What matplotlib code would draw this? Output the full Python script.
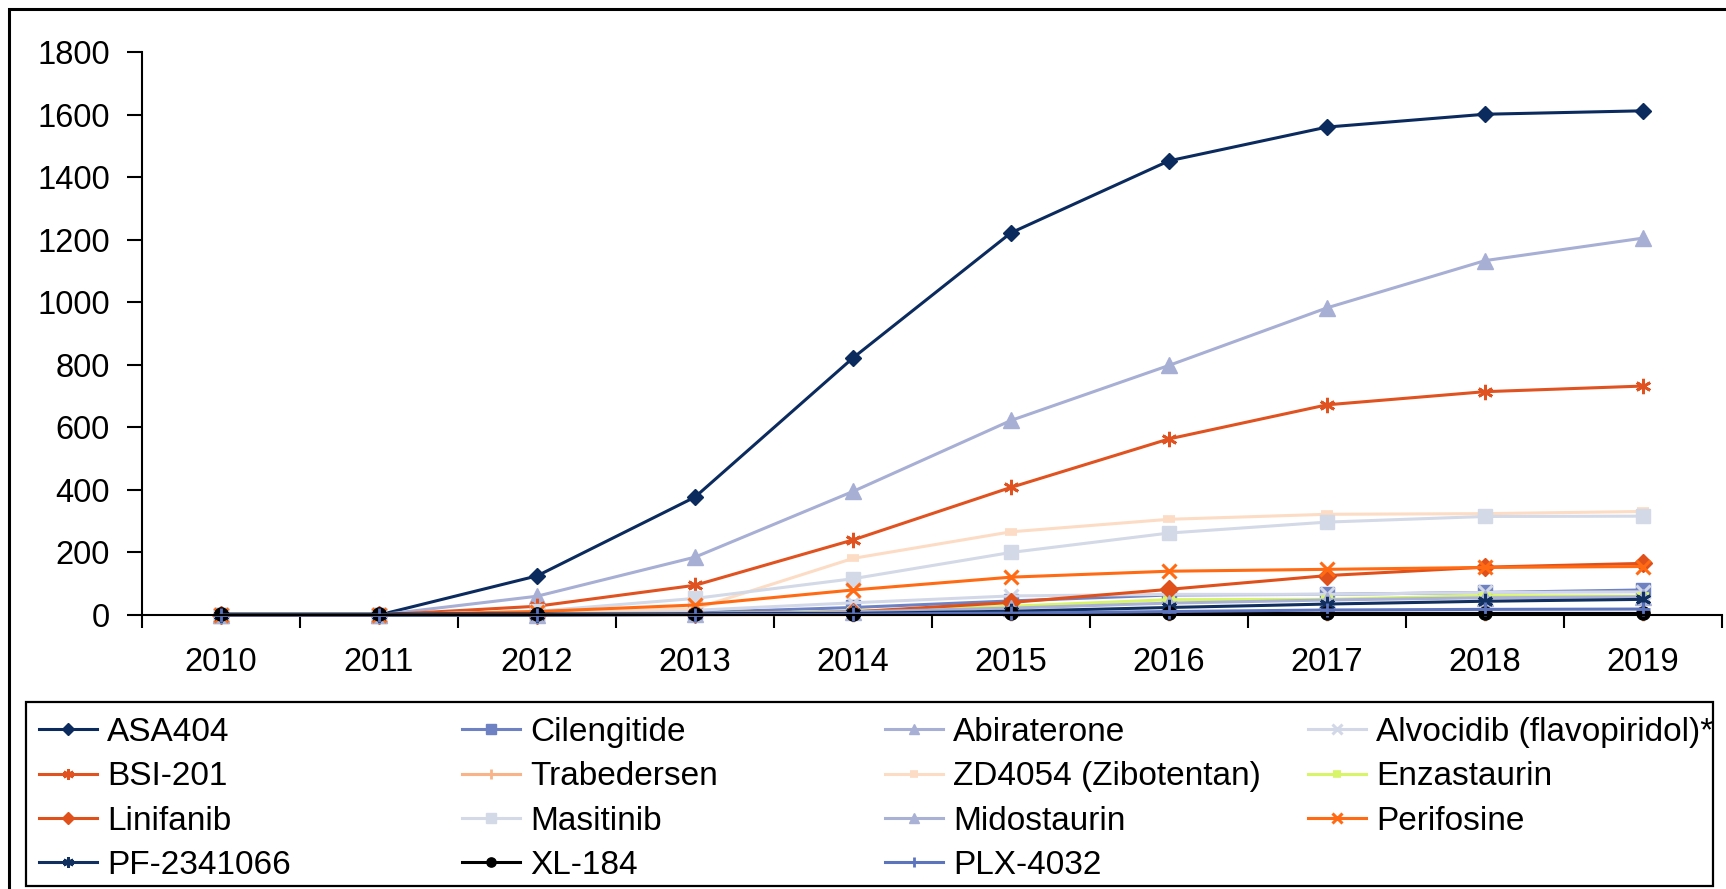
import numpy as np
import matplotlib
matplotlib.use("Agg")
import matplotlib.pyplot as plt
from matplotlib.patches import Rectangle

plt.rcParams['font.family'] = ['Liberation Sans', 'DejaVu Sans']

years = ['2010', '2011', '2012', '2013', '2014', '2015', '2016', '2017', '2018', '2019']

asa404      = [0, 0, 125, 377, 822, 1222, 1452, 1560, 1601, 1612]
cilengitide = [0, 0, 2, 8, 24, 45, 64, 66, 72, 80]
abiraterone = [0, 0, 60, 185, 395, 622, 798, 982, 1133, 1205]
alvocidib   = [0, 0, 3, 15, 39, 61, 66, 66, 72, 74]
bsi201      = [0, 0, 28, 95, 240, 408, 563, 672, 714, 732]
trabedersen = [0, 0, 0, 1, 1, 2, 2, 2, 3, 3]
zd4054      = [0, 0, 12, 20, 181, 266, 306, 322, 324, 331]
enzastaurin = [0, 0, 1, 4, 12, 28, 49, 50, 62, 60]
linifanib   = [0, 0, 1, 3, 10, 40, 82, 126, 153, 165]
masitinib   = [0, 0, 12, 53, 116, 200, 262, 297, 315, 316]
midostaurin = [0, 0, 1, 4, 10, 22, 38, 48, 55, 58]
perifosine  = [0, 0, 11, 32, 80, 121, 140, 146, 152, 155]
pf2341066   = [0, 0, 0, 2, 5, 12, 24, 35, 44, 50]
xl184       = [3, 3, 3, 3, 4, 5, 5, 5, 5, 5]
plx4032     = [0, 0, 0, 1, 3, 6, 11, 16, 18, 19]

yticks = [0, 200, 400, 600, 800, 1000, 1200, 1400, 1600, 1800]

asterisk = (6, 2, 0)
series = [
    ("ASA404", asa404, '#0B2B5E', 'D', 8.5, 1.0),
    ("Cilengitide", cilengitide, '#6E82C3', 's', 10, 1.0),
    ("Abiraterone", abiraterone, '#A7AFD4', '^', 11, 1.0),
    ("Alvocidib (flavopiridol)*", alvocidib, '#D3D8E8', 'x', 10, 2.2),
    ("BSI-201", bsi201, '#E0521F', asterisk, 11, 2.0),
    ("Trabedersen", trabedersen, '#F8B488', '+', 10, 2.0),
    ("ZD4054 (Zibotentan)", zd4054, '#FCDCC4', '_', 9, 5.5),
    ("Enzastaurin", enzastaurin, '#D8F56A', '_', 9, 5.5),
    ("Linifanib", linifanib, '#E0501A', 'D', 9, 1.0),
    ("Masitinib", masitinib, '#D3D9E6', 's', 10.5, 1.0),
    ("Midostaurin", midostaurin, '#A9B1D4', '^', 11, 1.0),
    ("Perifosine", perifosine, '#FF6A13', 'x', 10, 2.2),
    ("PF-2341066", pf2341066, '#11305F', asterisk, 11, 2.0),
    ("XL-184", xl184, '#000000', 'o', 9.5, 1.0),
    ("PLX-4032", plx4032, '#5C74BE', '+', 10, 2.0),
]

W, H = 1726, 889
fig = plt.figure(figsize=(W / 100, H / 100), dpi=100)
ax = fig.add_axes([142 / W, 1 - 615 / H, (1722 - 142) / W, (615 - 52) / H])

x = np.arange(len(years))
handles = {}
for name, vals, color, marker, ms, mew in series:
    ln, = ax.plot(x, vals, color=color, lw=2.2, marker=marker, ms=ms,
                  mew=mew, mec=color, mfc=color, label=name, clip_on=False)
    handles[name] = ln

ax.set_xlim(-0.5, len(years) - 0.5)
ax.set_ylim(0, 1800)
ax.set_yticks(yticks)
ax.set_yticklabels([str(v) for v in yticks])
ax.set_xticks(np.arange(-0.5, len(years), 1.0))
ax.set_xticklabels([])
ax.set_xticks(x, minor=True)
ax.set_xticklabels(years, minor=True)
ax.tick_params(axis='x', which='major', length=9, width=1.5, direction='out')
ax.tick_params(axis='x', which='minor', length=0, pad=23, labelsize=23.5)
ax.tick_params(axis='y', length=11, width=1.5, pad=12, labelsize=23.5)
for s in ['top', 'right']:
    ax.spines[s].set_visible(False)
for s in ['left', 'bottom']:
    ax.spines[s].set_linewidth(1.5)

# outer chart border (clipped at right/bottom as in reference)
fig.add_artist(Rectangle((9 / W, -0.2), 1.5, 1 - 9 / H + 0.2,
                         transform=fig.transFigure, fill=False, lw=2.2, ec='black'))
# legend frame
fig.add_artist(Rectangle((26 / W, 1 - 886 / H), (1713 - 26) / W, (886 - 702) / H,
                         transform=fig.transFigure, fill=False, lw=1.6, ec='black'))

columns = [
    ["ASA404", "BSI-201", "Linifanib", "PF-2341066"],
    ["Cilengitide", "Trabedersen", "Masitinib", "XL-184"],
    ["Abiraterone", "ZD4054 (Zibotentan)", "Midostaurin", "PLX-4032"],
    ["Alvocidib (flavopiridol)*", "Enzastaurin", "Perifosine"],
]
col_x = [39, 462, 885, 1308]
for cx, names in zip(col_x, columns):
    fig.legend([handles[n] for n in names], names, loc='upper left',
               bbox_to_anchor=(cx / W, 1 - 717 / H), bbox_transform=fig.transFigure,
               frameon=False, borderpad=0, borderaxespad=0, handlelength=1.75,
               handletextpad=0.3, labelspacing=0.4, fontsize=24, markerscale=0.7)

fig.savefig("out.png", dpi=100)
